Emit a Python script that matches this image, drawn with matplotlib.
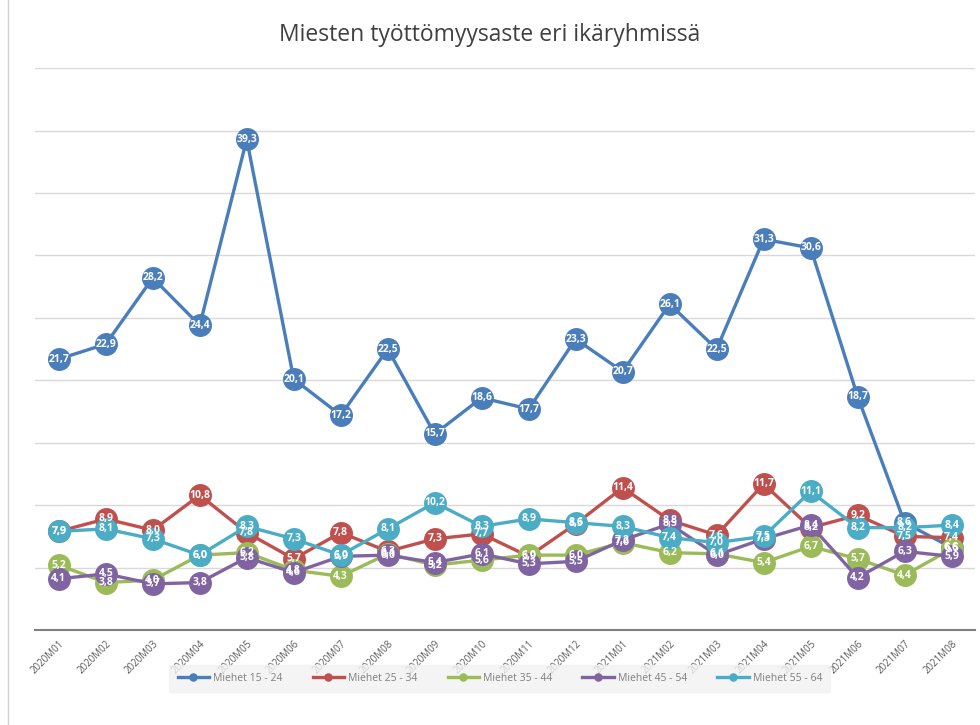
import matplotlib
matplotlib.use("Agg")
import matplotlib.pyplot as plt
from matplotlib.patches import Rectangle

months = ["2020M01", "2020M02", "2020M03", "2020M04", "2020M05", "2020M06", "2020M07",
          "2020M08", "2020M09", "2020M10", "2020M11", "2020M12", "2021M01", "2021M02",
          "2021M03", "2021M04", "2021M05", "2021M06", "2021M07", "2021M08"]

m15_24 = [21.7, 22.9, 28.2, 24.4, 39.3, 20.1, 17.2, 22.5, 15.7, 18.6, 17.7, 23.3, 20.7, 26.1,
          22.5, 31.3, 30.6, 18.7, 8.6, 6.6]
m25_34 = [7.9, 8.9, 8.0, 10.8, 7.8, 5.7, 7.8, 6.3, 7.3, 7.7, 5.9, 8.5, 11.4, 8.8,
          7.6, 11.7, 8.2, 9.2, 7.5, 7.4]
m35_44 = [5.2, 3.8, 4.0, 6.0, 6.2, 4.8, 4.3, 6.1, 5.2, 5.6, 6.0, 6.0, 7.0, 6.2,
          6.1, 5.4, 6.7, 5.7, 4.4, 6.5]
m45_54 = [4.1, 4.5, 3.7, 3.8, 5.8, 4.6, 5.9, 6.0, 5.4, 6.1, 5.3, 5.5, 7.2, 8.5,
          6.0, 7.3, 8.4, 4.2, 6.3, 5.9]
m55_64 = [7.9, 8.1, 7.3, 6.0, 8.3, 7.3, 6.0, 8.1, 10.2, 8.3, 8.9, 8.6, 8.3, 7.4,
          7.0, 7.5, 11.1, 8.2, 8.2, 8.4]

series_names = ["Miehet 15 - 24", "Miehet 25 - 34", "Miehet 35 - 44", "Miehet 45 - 54", "Miehet 55 - 64"]
series_values = [m15_24, m25_34, m35_44, m45_54, m55_64]
colors = ["#4A7EBB", "#C0504D", "#9BBB59", "#8064A2", "#4BACC6"]

title = "Miesten työttömyysaste eri ikäryhmissä"

plt.rcParams['font.family'] = ['Open Sans', 'DejaVu Sans']

fig = plt.figure(figsize=(9.8, 7.25), dpi=100)
fig.patch.set_facecolor("white")
fig.patches.append(Rectangle((0.008, -0.01), 1.2, 1.2, transform=fig.transFigure,
                             fill=False, edgecolor="#d0d0d0", linewidth=1.0))

ax = fig.add_axes([0.036, 0.131, 0.959, 0.775])
x = list(range(len(months)))

for i, (name, vals, c) in enumerate(zip(series_names, series_values, colors)):
    ax.plot(x, vals, color=c, linewidth=2.4, marker="o", markersize=15.5,
            markeredgecolor=c, markerfacecolor=c, label=name, zorder=3 + i)

for i, (vals, c) in enumerate(zip(series_values, colors)):
    for xi, v in zip(x, vals):
        ax.text(xi, v, f"{v:.1f}".replace(".", ","), ha="center", va="center",
                fontsize=7.5, fontweight="bold", color="white", zorder=20)

ax.set_ylim(0, 45)
ax.set_xlim(-0.5, 19.5)
ax.set_yticks(range(5, 50, 5))
ax.set_yticklabels([])
ax.tick_params(axis="y", length=0)
ax.grid(axis="y", color="#d9d9d9", linewidth=1.0)
ax.set_axisbelow(True)
for s in ["top", "right", "left"]:
    ax.spines[s].set_visible(False)
ax.spines["bottom"].set_color("#808080")
ax.spines["bottom"].set_linewidth(1.5)
ax.set_xticks(x)
ax.set_xticklabels(months, rotation=45, ha="right", rotation_mode="anchor",
                   fontsize=7, color="#595959")
ax.tick_params(axis="x", length=0, pad=6)

fig.text(0.5, 0.952, title, ha="center", va="center", fontsize=16.5, color="#404040")

leg = fig.legend(loc="center", bbox_to_anchor=(0.510, 0.064), ncol=5, frameon=True,
                 fontsize=7.5, handlelength=3.0, columnspacing=2.9, markerscale=0.33,
                 borderpad=0.8, handletextpad=0.4)
leg.get_frame().set_facecolor("#f2f2f2")
leg.get_frame().set_edgecolor("#f2f2f2")
leg.get_frame().set_boxstyle("square", pad=0)
for t in leg.get_texts():
    t.set_color("#7f7f7f")

fig.savefig("out.png", dpi=100)
